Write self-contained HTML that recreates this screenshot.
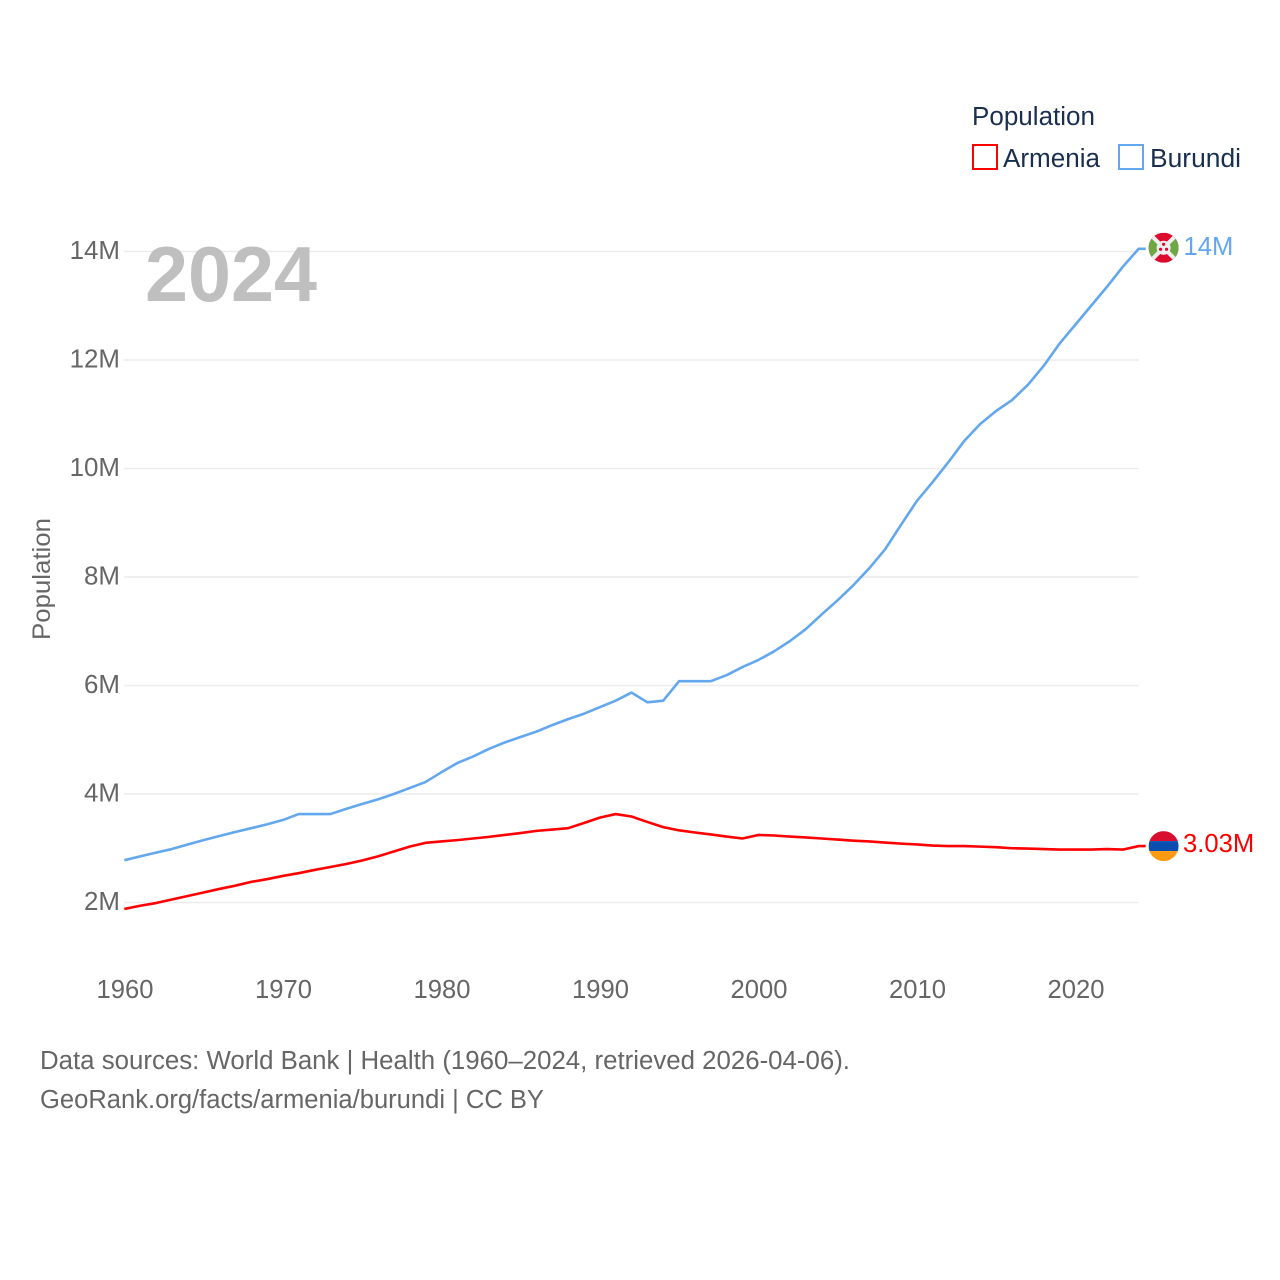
<!DOCTYPE html>
<html lang="en">
<head>
<meta charset="utf-8">
<title>Population: Armenia and Burundi</title>
<style>
html,body{margin:0;padding:0;background:#fff;}
svg{display:block;font-family:"Liberation Sans",sans-serif;}
</style>
</head>
<body>
<svg id="chart" xmlns="http://www.w3.org/2000/svg" width="1280" height="1280" viewBox="0 0 1280 1280">
  <rect x="0" y="0" width="1280" height="1280" fill="#ffffff"/>
  <defs>
    <clipPath id="flag-clip"><circle cx="0" cy="0" r="15"/></clipPath>
  </defs>
  <g id="grid"></g>
  <g id="yticks"></g>
  <g id="xticks"></g>
  <text x="145" y="301" font-size="78" font-weight="700" fill="#bfbfbf" textLength="172" lengthAdjust="spacingAndGlyphs">2024</text>
  <text transform="translate(50,640) rotate(-90)" font-size="25" fill="#666666" textLength="122" lengthAdjust="spacingAndGlyphs">Population</text>
  <g id="series"></g>
  <g id="burundi-flag">
    <g clip-path="url(#flag-clip)">
      <rect x="-15" y="-15" width="30" height="30" fill="#dd0a2d"/>
      <path d="M-15,-15 L0,0 L-15,15 Z" fill="#6ea845"/>
      <path d="M15,-15 L0,0 L15,15 Z" fill="#6ea845"/>
      <path d="M-15,-15 L15,15" stroke="#eeeeee" stroke-width="4"/>
      <path d="M15,-15 L-15,15" stroke="#eeeeee" stroke-width="4"/>
      <circle cx="0" cy="0" r="7" fill="#eeeeee"/>
      <circle cx="0" cy="-3.5" r="1.6" fill="#dd0a2d"/>
      <circle cx="-3" cy="1.5" r="1.6" fill="#dd0a2d"/>
      <circle cx="3" cy="1.5" r="1.6" fill="#dd0a2d"/>
    </g>
  </g>
  <g id="armenia-flag">
    <g clip-path="url(#flag-clip)">
      <rect x="-15" y="-15" width="30" height="10" fill="#d90d2e"/>
      <rect x="-15" y="-5" width="30" height="10" fill="#0a4fb0"/>
      <rect x="-15" y="5" width="30" height="10" fill="#ff9a12"/>
    </g>
  </g>
  <g id="end-labels"></g>
  <g>
    <text x="972" y="125" font-size="25.5" fill="#1a2f50" textLength="123" lengthAdjust="spacingAndGlyphs">Population</text>
    <g>
      <rect x="973" y="145" width="24" height="24" fill="#ffffff" stroke="#ff0000" stroke-width="2"/>
      <text x="1003" y="167" font-size="25.5" fill="#1a2f50" textLength="97" lengthAdjust="spacingAndGlyphs">Armenia</text>
    </g>
    <g>
      <rect x="1119" y="145" width="24" height="24" fill="#ffffff" stroke="#63a7ef" stroke-width="2"/>
      <text x="1150" y="167" font-size="25.5" fill="#1a2f50" textLength="91" lengthAdjust="spacingAndGlyphs">Burundi</text>
    </g>
  </g>
  <g>
    <text x="40" y="1069" font-size="25.5" fill="#666666" textLength="810" lengthAdjust="spacingAndGlyphs">Data sources: World Bank | Health (1960–2024, retrieved 2026-04-06).</text>
    <text x="40" y="1108" font-size="25.5" fill="#666666" textLength="504" lengthAdjust="spacingAndGlyphs">GeoRank.org/facts/armenia/burundi | CC BY</text>
  </g>
</svg>
<script>
const startYear = 1960;
const armeniaValues = [1.88,1.94,1.99,2.055,2.12,2.185,2.25,2.31,2.38,2.43,2.49,2.54,2.60,2.655,2.71,2.775,2.85,2.94,3.03,3.10,3.125,3.15,3.18,3.21,3.245,3.28,3.32,3.345,3.37,3.465,3.565,3.63,3.585,3.485,3.39,3.33,3.29,3.255,3.215,3.18,3.245,3.235,3.215,3.20,3.18,3.16,3.14,3.125,3.105,3.085,3.07,3.05,3.04,3.04,3.03,3.02,3.00,2.995,2.985,2.975,2.975,2.975,2.985,2.975,3.04];
const burundiValues = [2.78,2.85,2.92,2.985,3.07,3.15,3.225,3.30,3.37,3.44,3.52,3.63,3.63,3.63,3.725,3.815,3.90,4.00,4.11,4.22,4.40,4.57,4.69,4.83,4.95,5.05,5.15,5.27,5.38,5.48,5.60,5.72,5.87,5.69,5.72,6.08,6.08,6.08,6.19,6.34,6.47,6.63,6.82,7.04,7.31,7.57,7.85,8.16,8.51,8.96,9.40,9.75,10.12,10.51,10.82,11.06,11.26,11.54,11.89,12.30,12.65,13.00,13.35,13.72,14.05];
const yTickValues = [2,4,6,8,10,12,14];
const yTickLabels = ["2M","4M","6M","8M","10M","12M","14M"];
const xTickValues = [1960,1970,1980,1990,2000,2010,2020];
const xTickLabels = ["1960","1970","1980","1990","2000","2010","2020"];
const armeniaEndLabel = "3.03M";
const burundiEndLabel = "14M";

const SVG_NS = "http://www.w3.org/2000/svg";
function xScale(year){ return 124.3 + (year - 1960) * 15.85; }
function yScale(value){ return 902.5 - (value - 2) * 54.25; }
function linePoints(values){
  const pts = values.map(function(v,i){ return xScale(startYear + i).toFixed(2) + "," + yScale(v).toFixed(2); });
  const last = values[values.length - 1];
  pts.push((xScale(startYear + values.length - 1) + 7).toFixed(2) + "," + yScale(last).toFixed(2));
  return pts.join(" ");
}
function makeEl(tag, attrs, text){
  const el = document.createElementNS(SVG_NS, tag);
  Object.keys(attrs).forEach(function(k){ el.setAttribute(k, attrs[k]); });
  if (text !== undefined) el.textContent = text;
  return el;
}
const gridGroup = document.getElementById("grid");
const yTickGroup = document.getElementById("yticks");
const xTickGroup = document.getElementById("xticks");
const seriesGroup = document.getElementById("series");
const endGroup = document.getElementById("end-labels");

yTickValues.forEach(function(v,i){
  const gridLine = makeEl("line",{x1:xScale(1960),x2:xScale(2024),y1:yScale(v),y2:yScale(v),stroke:"#ececec","stroke-width":1.5});
  
  
  gridGroup.appendChild(gridLine);
  const tick = makeEl("text",{x:120,y:yScale(v)+7.5,"text-anchor":"end","font-size":25.9,fill:"#666666"},yTickLabels[i]);
  
  
  yTickGroup.appendChild(tick);
});
xTickValues.forEach(function(year,i){
  const tick = makeEl("text",{x:xScale(year)+0.7,y:998,"text-anchor":"middle","font-size":25.6,fill:"#666666"},xTickLabels[i]);
  
  
  xTickGroup.appendChild(tick);
});

const burundiLine = makeEl("polyline",{points:linePoints(burundiValues),fill:"none",stroke:"#63a7ef","stroke-width":2.6,"stroke-linejoin":"round"});


seriesGroup.appendChild(burundiLine);
const armeniaLine = makeEl("polyline",{points:linePoints(armeniaValues),fill:"none",stroke:"#ff0000","stroke-width":2.6,"stroke-linejoin":"round"});


seriesGroup.appendChild(armeniaLine);

const flagX = xScale(2024) + 24.9;
const burundiLast = yScale(burundiValues[burundiValues.length - 1]);
const armeniaLast = yScale(armeniaValues[armeniaValues.length - 1]);
document.getElementById("burundi-flag").setAttribute("transform","translate(" + flagX + "," + (burundiLast - 1) + ")");
document.getElementById("armenia-flag").setAttribute("transform","translate(" + flagX + "," + armeniaLast + ")");

const burundiEnd = makeEl("text",{x:1183.5,y:burundiLast+6,"font-size":25.6,fill:"#63a7ef"},burundiEndLabel);


endGroup.appendChild(burundiEnd);
const armeniaEnd = makeEl("text",{x:1183,y:armeniaLast+6,"font-size":25.6,fill:"#ff0000"},armeniaEndLabel);


endGroup.appendChild(armeniaEnd);
</script>
</body>
</html>
